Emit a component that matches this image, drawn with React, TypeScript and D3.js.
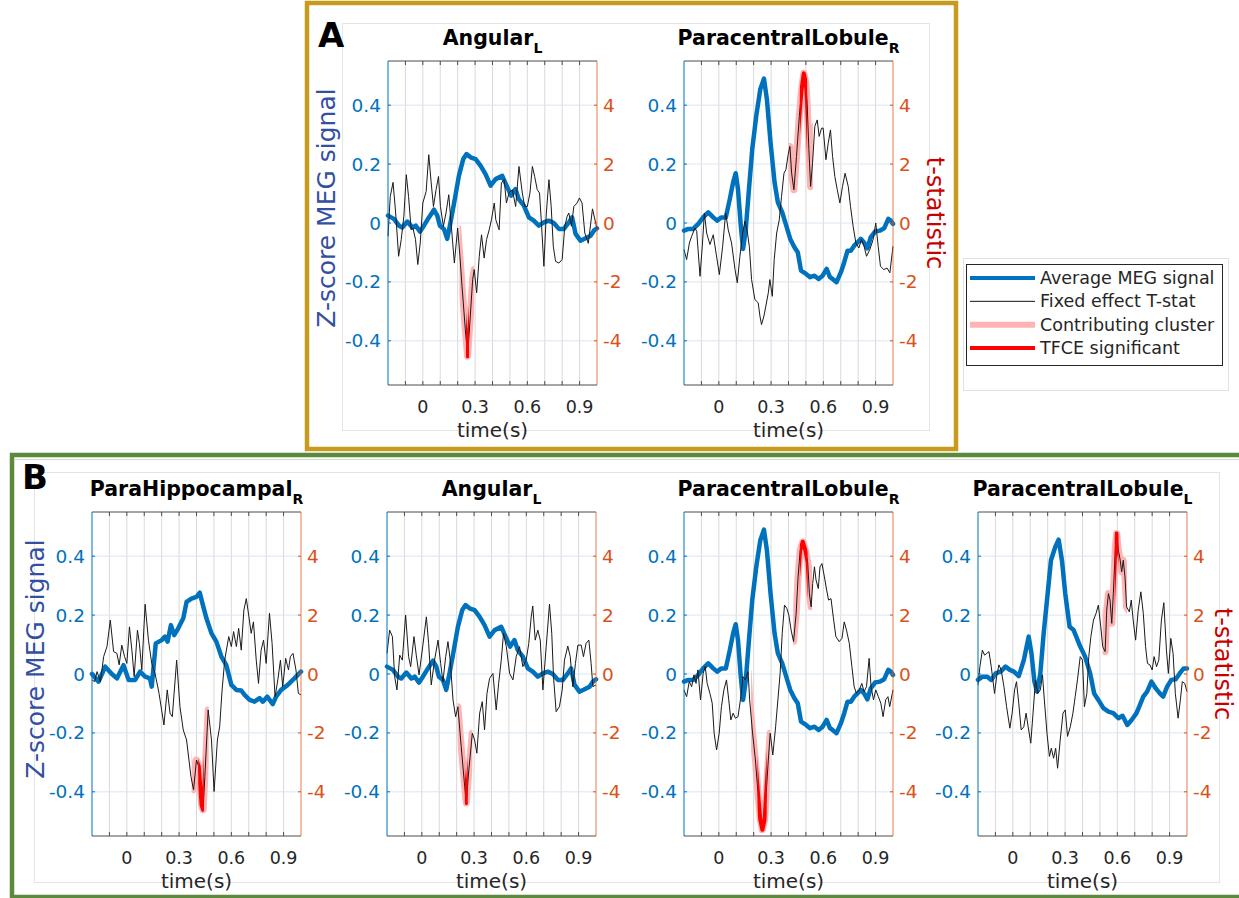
import React from 'react'
import * as d3 from 'd3'

type Pt = [number, number]

const FONT = 'DejaVu Sans, Verdana, sans-serif'
const BLUE = '#0072BD'
const ORANGE = '#D95319'
const PW = 209
const PH = 324

// axis ticks
const timeTicks = [-0.2, -0.1, 0, 0.1, 0.2, 0.3, 0.4, 0.5, 0.6, 0.7, 0.8, 0.9, 1.0]
const timeLabels = [0, 0.3, 0.6, 0.9]
const zTicks = [-0.4, -0.2, 0, 0.2, 0.4]
const tTicks = [-4, -2, 0, 2, 4]

// average MEG signal (z-score), [time, value]
const angularMeg: Pt[] = [
  [-0.2, 0.025], [-0.166, 0.014], [-0.137, -0.009], [-0.118, -0.015], [-0.089, 0.005], [-0.06, -0.015],
  [-0.041, -0.009], [-0.016, -0.029], [0.006, -0.009], [0.035, 0.019], [0.064, 0.045], [0.083, 0.025],
  [0.098, -0.009], [0.121, -0.02], [0.14, -0.054], [0.159, 0.002], [0.182, 0.076], [0.207, 0.16],
  [0.232, 0.217], [0.251, 0.234], [0.274, 0.223], [0.303, 0.217], [0.332, 0.194], [0.36, 0.166],
  [0.389, 0.127], [0.418, 0.149], [0.456, 0.16], [0.481, 0.127], [0.507, 0.093], [0.532, 0.115],
  [0.551, 0.081], [0.58, 0.059], [0.609, 0.019], [0.637, 0.008], [0.666, -0.009], [0.695, 0.002],
  [0.723, 0.008], [0.752, 0], [0.781, -0.02], [0.81, -0.02], [0.838, 0.002], [0.857, 0.019],
  [0.877, -0.037], [0.905, -0.06], [0.934, -0.052], [0.963, -0.043], [0.982, -0.026], [1.0, -0.018],
]
const paracentralRMeg: Pt[] = [
  [-0.2, -0.026], [-0.175, -0.02], [-0.147, -0.02], [-0.118, -0.003], [-0.09, 0.019], [-0.061, 0.036],
  [-0.032, 0.019], [-0.01, 0.008], [0.015, 0.019], [0.04, 0.019], [0.063, 0.081], [0.082, 0.138],
  [0.097, 0.169], [0.11, 0.115], [0.126, -0.009], [0.139, -0.088], [0.154, -0.026], [0.173, 0.115],
  [0.192, 0.251], [0.215, 0.364], [0.238, 0.454], [0.259, 0.49], [0.276, 0.42], [0.297, 0.273],
  [0.32, 0.138], [0.339, 0.07], [0.364, 0.036], [0.387, -0.009], [0.41, -0.054], [0.434, -0.082],
  [0.453, -0.099], [0.472, -0.162], [0.501, -0.173], [0.524, -0.184], [0.549, -0.179], [0.573, -0.19],
  [0.596, -0.179], [0.619, -0.156], [0.638, -0.184], [0.653, -0.19], [0.676, -0.201], [0.701, -0.167],
  [0.72, -0.133], [0.739, -0.094], [0.758, -0.094], [0.777, -0.077], [0.796, -0.066], [0.815, -0.054],
  [0.834, -0.066], [0.853, -0.086], [0.872, -0.049], [0.897, -0.029], [0.924, -0.026], [0.949, -0.018],
  [0.973, 0.014], [0.987, 0.008], [1.0, -0.003],
]
const parahippoRMeg: Pt[] = [
  [-0.2, 0.0], [-0.162, -0.026], [-0.124, 0.025], [-0.086, 0.0], [-0.057, -0.015], [-0.019, 0.03],
  [0.01, -0.02], [0.048, -0.02], [0.076, 0.008], [0.105, -0.009], [0.133, -0.015], [0.143, -0.043],
  [0.166, 0.104], [0.2, 0.115], [0.219, 0.127], [0.234, 0.11], [0.253, 0.166], [0.272, 0.132],
  [0.295, 0.155], [0.324, 0.189], [0.343, 0.245], [0.371, 0.256], [0.4, 0.262], [0.419, 0.276],
  [0.432, 0.245], [0.457, 0.189], [0.486, 0.138], [0.514, 0.11], [0.543, 0.059], [0.571, 0.03],
  [0.6, -0.037], [0.629, -0.054], [0.657, -0.056], [0.676, -0.071], [0.705, -0.088], [0.733, -0.094],
  [0.762, -0.082], [0.781, -0.094], [0.806, -0.077], [0.838, -0.102], [0.857, -0.077], [0.886, -0.054],
  [0.924, -0.037], [0.962, -0.015], [1.0, 0.008],
]
const paracentralLMeg: Pt[] = [
  [-0.2, -0.02], [-0.175, -0.009], [-0.147, -0.009], [-0.124, -0.02], [-0.099, 0.002], [-0.07, 0.008],
  [-0.042, 0.025], [-0.017, 0.014], [0.006, 0.008], [0.034, -0.007], [0.063, 0.047], [0.091, 0.127],
  [0.107, 0.07], [0.124, -0.026], [0.139, -0.06], [0.158, 0.002], [0.177, 0.138], [0.2, 0.273],
  [0.219, 0.386], [0.244, 0.432], [0.263, 0.456], [0.282, 0.386], [0.301, 0.273], [0.326, 0.16],
  [0.349, 0.149], [0.364, 0.127], [0.387, 0.093], [0.415, 0.059], [0.444, 0.002], [0.467, -0.066],
  [0.491, -0.088], [0.52, -0.116], [0.549, -0.128], [0.577, -0.133], [0.606, -0.15], [0.63, -0.142],
  [0.657, -0.173], [0.682, -0.156], [0.71, -0.133], [0.73, -0.105], [0.749, -0.077], [0.771, -0.06],
  [0.796, -0.026], [0.821, -0.049], [0.844, -0.066], [0.863, -0.077], [0.886, -0.043], [0.91, -0.02],
  [0.935, -0.018], [0.958, 0.002], [0.981, 0.019], [1.0, 0.019],
]

// fixed effect T-stat, [time, t]
const angularTA: Pt[] = [
  [-0.2, -0.45], [-0.187, 0.9], [-0.171, 1.38], [-0.156, 0.34], [-0.139, -1.13], [-0.124, -0.56],
  [-0.109, 0.23], [-0.095, 1.64], [-0.082, 0.9], [-0.067, -0.23], [-0.057, -0.17], [-0.042, -0.56],
  [-0.029, -1.41], [-0.015, -0.68], [0.0, 0.68], [0.019, 1.07], [0.034, 2.32], [0.048, 1.36],
  [0.061, 0.56], [0.076, 1.13], [0.09, 1.58], [0.101, 0.56], [0.118, -0.11], [0.133, 0.34],
  [0.149, 0.96], [0.162, 0], [0.181, -1.36], [0.2, -0.17], [0.213, -1.13], [0.225, -2.15],
  [0.244, -3.62], [0.257, -4.52], [0.27, -3.39], [0.286, -1.92], [0.295, -1.58], [0.309, -2.37],
  [0.324, -1.13], [0.337, -0.4], [0.352, -1.19], [0.366, -0.56], [0.381, -0.23], [0.394, 0.11],
  [0.41, 0.68], [0.419, 0.11], [0.438, -0.23], [0.451, 1.36], [0.467, 1.47], [0.48, 0.68],
  [0.495, 1.02], [0.514, 1.13], [0.533, 0.56], [0.552, 1.92], [0.571, 1.02], [0.585, 0.56],
  [0.6, 0.56], [0.615, 1.02], [0.629, 1.92], [0.642, 1.58], [0.657, 1.13], [0.67, 1.02],
  [0.682, -0.11], [0.695, -1.47], [0.709, 0.34], [0.724, 1.47], [0.737, 0.56], [0.749, -0.79],
  [0.762, -1.3], [0.781, -1.36], [0.8, -1.24], [0.815, -0.11], [0.829, 0.23], [0.838, 0.34],
  [0.853, -0.11], [0.867, 0.56], [0.886, 0.68], [0.899, 0.85], [0.914, 0.68], [0.93, -0.34],
  [0.95, -0.69], [0.974, 0.48], [1.0, -0.2],
]
const paracentralRTA: Pt[] = [
  [-0.2, -0.9], [-0.185, -1.24], [-0.169, -0.68], [-0.156, -0.45], [-0.137, -0.17], [-0.127, -0.28],
  [-0.108, -1.81], [-0.095, -0.79], [-0.083, 0.34], [-0.07, -0.34], [-0.051, -0.73], [-0.032, -0.4],
  [-0.016, -1.02], [0.003, -1.75], [0.022, -0.79], [0.039, 0.34], [0.054, -0.23], [0.073, -0.68],
  [0.093, -1.58], [0.106, -2.03], [0.121, -1.13], [0.137, -0.34], [0.15, 0.06], [0.163, -0.28],
  [0.175, -0.79], [0.188, -1.92], [0.207, -2.6], [0.226, -2.71], [0.236, -3.16], [0.245, -3.45],
  [0.259, -3.16], [0.27, -2.82], [0.284, -2.37], [0.293, -1.92], [0.307, -2.49], [0.318, -1.24],
  [0.332, -0.34], [0.347, 0.11], [0.36, 0.9], [0.374, 1.69], [0.385, 1.81], [0.398, 2.32],
  [0.408, 2.6], [0.418, 1.69], [0.431, 1.13], [0.446, 2.26], [0.462, 3.62], [0.475, 4.52],
  [0.488, 5.08], [0.5, 4.75], [0.507, 4.07], [0.517, 2.49], [0.527, 1.24], [0.538, 2.03],
  [0.551, 3.28], [0.565, 3.5], [0.576, 2.94], [0.59, 3.22], [0.599, 3.22], [0.615, 2.15],
  [0.628, 2.71], [0.641, 3.16], [0.653, 2.26], [0.666, 1.58], [0.68, 1.13], [0.695, 0.68],
  [0.71, 1.24], [0.725, 1.69], [0.743, 1.24], [0.756, 0.56], [0.771, -0.11], [0.787, -0.68],
  [0.804, -0.85], [0.819, -0.56], [0.834, -0.79], [0.848, -1.13], [0.867, -0.9], [0.886, -0.56],
  [0.901, 0], [0.915, -0.79], [0.928, -1.47], [0.947, -1.58], [0.966, -1.53], [0.982, -1.69],
  [1.0, -0.79],
]
const parahippoRTB: Pt[] = [
  [-0.2, -0.2], [-0.185, -0.26], [-0.171, 0.08], [-0.152, -0.26], [-0.133, 0.59], [-0.114, 0.93],
  [-0.095, 1.83], [-0.076, 0.76], [-0.057, 0.7], [-0.044, 0.31], [-0.029, 0.98], [-0.013, 0.59],
  [0.0, 0.36], [0.015, 1.6], [0.029, 0.81], [0.042, -0.09], [0.061, 1.49], [0.072, 1.04],
  [0.086, 0.14], [0.105, 2.37], [0.124, 1.15], [0.143, 0.36], [0.162, 0.02], [0.185, -0.66],
  [0.213, -1.73], [0.232, -0.54], [0.248, -1.33], [0.261, -1.45], [0.286, 0.47], [0.305, -1.11],
  [0.324, -1.9], [0.343, -2.24], [0.368, -3.48], [0.383, -3.93], [0.4, -2.92], [0.413, -3.14],
  [0.429, -4.44], [0.438, -4.61], [0.448, -3.48], [0.467, -1.22], [0.486, -2.24], [0.501, -3.99],
  [0.52, -2.24], [0.533, -1.79], [0.547, -0.54], [0.562, 0.47], [0.585, 1.27], [0.6, 0.93],
  [0.613, 1.44], [0.629, 0.93], [0.642, 1.55], [0.657, 0.81], [0.672, 2.17], [0.686, 2.56],
  [0.701, 1.94], [0.714, 1.38], [0.727, 1.77], [0.743, 0.47], [0.756, -0.32], [0.771, 0.81],
  [0.785, 1.15], [0.8, 0.36], [0.819, 2.06], [0.834, 1.04], [0.851, -0.77], [0.867, -0.2],
  [0.882, 0.47], [0.895, -0.43], [0.912, 0.53], [0.928, 0.14], [0.939, 0.59], [0.954, 0.7],
  [0.971, 0.14], [0.985, -0.66], [1.0, -0.71],
]
const angularTB: Pt[] = [
  [-0.2, 0.7], [-0.185, 1.49], [-0.169, 1.27], [-0.156, -0.09], [-0.143, -0.54], [-0.127, 0.64],
  [-0.112, 0.47], [-0.093, 2.0], [-0.076, 0.59], [-0.064, 0.25], [-0.045, 1.27], [-0.032, 0.64],
  [-0.016, -0.03], [0.006, 0.98], [0.026, 1.94], [0.039, 1.04], [0.054, -0.37], [0.073, 0.47],
  [0.093, 1.15], [0.108, 0.36], [0.121, -0.26], [0.137, 0.59], [0.15, 1.1], [0.163, 0.47],
  [0.179, -0.88], [0.194, -1.45], [0.207, -1.11], [0.226, -2.46], [0.246, -3.82], [0.255, -4.38],
  [0.27, -3.25], [0.29, -2.01], [0.303, -2.24], [0.316, -2.69], [0.332, -1.33], [0.347, -0.94],
  [0.36, -1.9], [0.374, -0.66], [0.389, -0.15], [0.408, 0.02], [0.427, -1.22], [0.441, -0.32],
  [0.456, 0.47], [0.469, 1.38], [0.485, 0.93], [0.504, 0.02], [0.523, -0.2], [0.542, 0.59],
  [0.561, 0.93], [0.58, 0.25], [0.599, 0.47], [0.614, 1.04], [0.628, 1.94], [0.637, 2.31],
  [0.651, 1.15], [0.666, 1.49], [0.68, 1.15], [0.695, -0.54], [0.714, 0.93], [0.733, 2.37],
  [0.746, 1.38], [0.756, -0.09], [0.771, -1.28], [0.79, -1.11], [0.806, -0.54], [0.819, 0.47],
  [0.838, 0.95], [0.852, 0.59], [0.867, -0.43], [0.882, 0.36], [0.896, 0.98], [0.915, 0.98],
  [0.928, 0.59], [0.943, 1.04], [0.959, 1.15], [0.972, 0.36], [0.982, -0.43], [1.0, -0.37],
]
const paracentralRTB: Pt[] = [
  [-0.2, -0.54], [-0.185, -0.77], [-0.17, -0.26], [-0.156, -0.43], [-0.143, -0.03], [-0.131, -0.32],
  [-0.12, 0.14], [-0.105, -0.88], [-0.09, 0.02], [-0.078, 0.25], [-0.067, -0.32], [-0.051, -0.66],
  [-0.038, -0.99], [-0.027, -2.01], [-0.013, -2.58], [0.002, -2.01], [0.015, -1.11], [0.029, -0.54],
  [0.044, -0.2], [0.057, -0.88], [0.069, -1.56], [0.082, -1.33], [0.095, -1.5], [0.11, -1.45],
  [0.124, -0.88], [0.139, -0.09], [0.152, -0.2], [0.168, 0.08], [0.177, -0.88], [0.192, -1.9],
  [0.21, -2.92], [0.225, -4.05], [0.238, -4.94], [0.25, -5.29], [0.263, -4.94], [0.272, -4.05],
  [0.284, -2.92], [0.295, -2.01], [0.31, -2.75], [0.326, -1.79], [0.339, -0.88], [0.352, 0.02],
  [0.364, 1.38], [0.377, 2.34], [0.39, 2.23], [0.402, 2.0], [0.415, 1.49], [0.429, 1.1],
  [0.444, 2.06], [0.455, 3.3], [0.467, 4.2], [0.482, 4.49], [0.497, 4.2], [0.51, 3.81],
  [0.52, 2.73], [0.53, 2.28], [0.539, 3.07], [0.549, 3.64], [0.558, 3.19], [0.571, 2.9],
  [0.581, 3.64], [0.592, 3.75], [0.606, 3.3], [0.619, 2.85], [0.63, 2.51], [0.644, 2.56],
  [0.657, 1.94], [0.672, 1.27], [0.691, 1.1], [0.707, 1.21], [0.72, 1.77], [0.733, 1.49],
  [0.749, 1.04], [0.764, 0.25], [0.777, -0.43], [0.79, -0.66], [0.806, -0.54], [0.821, -0.32],
  [0.834, -0.6], [0.848, -0.43], [0.863, 0.53], [0.874, -0.43], [0.888, -0.88], [0.901, -0.54],
  [0.916, -0.77], [0.93, -0.99], [0.943, -1.45], [0.958, -0.88], [0.971, -0.77], [0.981, -1.11],
  [1.0, -0.54],
]
const paracentralLTB: Pt[] = [
  [-0.2, -0.37], [-0.189, 0.25], [-0.175, 0.81], [-0.162, 0.64], [-0.15, 0.7], [-0.137, 0.76],
  [-0.124, 0.25], [-0.105, -0.66], [-0.093, -0.09], [-0.08, 0.31], [-0.067, 0.14], [-0.051, -0.43],
  [-0.036, -1.11], [-0.017, -1.84], [-0.004, -1.33], [0.01, -0.54], [0.021, -0.26], [0.034, -0.99],
  [0.048, -1.9], [0.063, -1.79], [0.076, -1.33], [0.088, -1.79], [0.103, -2.35], [0.116, -1.33],
  [0.13, -0.2], [0.143, -0.66], [0.158, -0.54], [0.17, -0.03], [0.181, -0.88], [0.196, -2.01],
  [0.21, -2.8], [0.221, -2.52], [0.234, -2.86], [0.246, -2.52], [0.257, -3.2], [0.272, -2.24],
  [0.288, -1.33], [0.301, -1.22], [0.314, -2.12], [0.33, -1.79], [0.345, -1.33], [0.358, -0.77],
  [0.371, -0.2], [0.387, 0.59], [0.4, 0.47], [0.411, -1.11], [0.425, -0.66], [0.436, 0.59],
  [0.448, 1.27], [0.463, 1.83], [0.478, 2.06], [0.491, 2.34], [0.505, 1.6], [0.516, 0.93],
  [0.53, 0.76], [0.539, 2.17], [0.549, 2.73], [0.558, 2.51], [0.568, 1.72], [0.577, 2.73],
  [0.589, 4.32], [0.596, 4.77], [0.606, 4.2], [0.615, 3.92], [0.625, 3.47], [0.634, 3.86],
  [0.644, 3.3], [0.653, 2.28], [0.669, 2.11], [0.68, 2.51], [0.691, 1.83], [0.705, 1.15],
  [0.72, 2.17], [0.735, 2.79], [0.749, 2.06], [0.762, 0.93], [0.773, 0.36], [0.787, 0.31],
  [0.8, 0.14], [0.811, 0.59], [0.825, 0.25], [0.838, 0.47], [0.853, 1.83], [0.867, 2.42],
  [0.882, 0.81], [0.893, 0.02], [0.907, 1.21], [0.92, 0.7], [0.933, -0.66], [0.949, -1.5],
  [0.962, -0.88], [0.973, -0.26], [0.987, -0.32], [1.0, -0.6],
]

// cluster windows (s): contributing cluster and TFCE significant
const angularClusterA: Pt[] = [[0.21, 0.295]]
const angularTfceA: Pt[] = [[0.248, 0.265]]
const paracentralRClusterA: Pt[] = [[0.40, 0.54]]
const paracentralRTfceA: Pt[] = [[0.465, 0.507]]
const parahippoRClusterB: Pt[] = [[0.372, 0.47]]
const parahippoRTfceB: Pt[] = [[0.41, 0.442]]
const angularClusterB: Pt[] = [[0.205, 0.29]]
const angularTfceB: Pt[] = [[0.247, 0.264]]
const paracentralRClusterB: Pt[] = [[0.185, 0.295], [0.427, 0.535]]
const paracentralRTfceB: Pt[] = [[0.222, 0.275], [0.465, 0.51]]
const paracentralLClusterB: Pt[] = [[0.515, 0.655]]
const paracentralLTfceB: Pt[] = [[0.585, 0.607]]

const legendLabels = ['Average MEG signal', 'Fixed effect T-stat', 'Contributing cluster', 'TFCE significant']

type PlotSpec = {
  id: string; left: number; top: number; title: string; sub: string
  meg: Pt[]; tstat: Pt[]; cluster: Pt[]; tfce: Pt[]
  zLabelX?: number; tLabelX?: number
}

const plots: PlotSpec[] = [
  { id: 'a1', left: 388, top: 61, title: 'Angular', sub: 'L', meg: angularMeg, tstat: angularTA, cluster: angularClusterA, tfce: angularTfceA, zLabelX: 326 },
  { id: 'a2', left: 684, top: 61, title: 'ParacentralLobule', sub: 'R', meg: paracentralRMeg, tstat: paracentralRTA, cluster: paracentralRClusterA, tfce: paracentralRTfceA, tLabelX: 935 },
  { id: 'b1', left: 92, top: 512, title: 'ParaHippocampal', sub: 'R', meg: parahippoRMeg, tstat: parahippoRTB, cluster: parahippoRClusterB, tfce: parahippoRTfceB, zLabelX: 35 },
  { id: 'b2', left: 387, top: 512, title: 'Angular', sub: 'L', meg: angularMeg, tstat: angularTB, cluster: angularClusterB, tfce: angularTfceB },
  { id: 'b3', left: 684, top: 512, title: 'ParacentralLobule', sub: 'R', meg: paracentralRMeg, tstat: paracentralRTB, cluster: paracentralRClusterB, tfce: paracentralRTfceB },
  { id: 'b4', left: 978, top: 512, title: 'ParacentralLobule', sub: 'L', meg: paracentralLMeg, tstat: paracentralLTB, cluster: paracentralLClusterB, tfce: paracentralLTfceB, tLabelX: 1223 },
]

function Plot({ p }: { p: PlotSpec }) {
  const { left, top, id } = p
  const right = left + PW
  const bottom = top + PH
  const x = d3.scaleLinear().domain([-0.2, 1.0]).range([left, right])
  const yz = d3.scaleLinear().domain([-0.55, 0.55]).range([bottom, top])
  const yt = d3.scaleLinear().domain([-5.5, 5.5]).range([bottom, top])
  const megLine = d3.line<Pt>().x(d => x(d[0])).y(d => yz(d[1]))
  const tLine = d3.line<Pt>().x(d => x(d[0])).y(d => yt(d[1]))
  const tPath = tLine(p.tstat) || ''
  const cx = (left + right) / 2

  return (
    <g>
      <defs>
        {p.cluster.map((w, i) => (
          <clipPath key={'c' + i} id={`${id}-c${i}`}>
            <rect x={x(w[0])} y={top - 10} width={x(w[1]) - x(w[0])} height={PH + 20} />
          </clipPath>
        ))}
        {p.tfce.map((w, i) => (
          <clipPath key={'r' + i} id={`${id}-r${i}`}>
            <rect x={x(w[0])} y={top - 10} width={x(w[1]) - x(w[0])} height={PH + 20} />
          </clipPath>
        ))}
      </defs>

      {/* grid */}
      {timeTicks.slice(1, -1).map(t => (
        <line key={'gx' + t} x1={x(t)} x2={x(t)} y1={top} y2={bottom} stroke="#dadada" strokeWidth={1} />
      ))}
      {zTicks.map(z => (
        <line key={'gy' + z} x1={left} x2={right} y1={yz(z)} y2={yz(z)} stroke="#d9e6f2" strokeWidth={1} />
      ))}

      {/* data */}
      <path d={megLine(p.meg) || ''} fill="none" stroke={BLUE} strokeWidth={4.5} strokeLinejoin="round" strokeLinecap="round" />
      {p.cluster.map((w, i) => (
        <path key={'pc' + i} d={tPath} fill="none" stroke="#ffb3b3" strokeWidth={7} strokeLinejoin="round" clipPath={`url(#${id}-c${i})`} />
      ))}
      <path d={tPath} fill="none" stroke="#1a1a1a" strokeWidth={1} strokeLinejoin="round" />
      {p.tfce.map((w, i) => (
        <path key={'pr' + i} d={tPath} fill="none" stroke="#ff0000" strokeWidth={4} strokeLinejoin="round" clipPath={`url(#${id}-r${i})`} />
      ))}

      {/* axes */}
      <line x1={left} x2={right} y1={top} y2={top} stroke="#4d4d4d" strokeWidth={1} />
      <line x1={left} x2={right} y1={bottom} y2={bottom} stroke="#4d4d4d" strokeWidth={1} />
      <line x1={left} x2={left} y1={top} y2={bottom} stroke={BLUE} strokeWidth={1} />
      <line x1={right} x2={right} y1={top} y2={bottom} stroke={ORANGE} strokeOpacity={0.75} strokeWidth={1} />
      {timeTicks.slice(1, -1).map(t => (
        <g key={'tk' + t}>
          <line x1={x(t)} x2={x(t)} y1={top} y2={top + 4} stroke="#4d4d4d" />
          <line x1={x(t)} x2={x(t)} y1={bottom} y2={bottom - 4} stroke="#4d4d4d" />
        </g>
      ))}
      {zTicks.map(z => (
        <line key={'zk' + z} x1={left} x2={left + 3} y1={yz(z)} y2={yz(z)} stroke={BLUE} />
      ))}
      {tTicks.map(t => (
        <line key={'tt' + t} x1={right} x2={right - 3} y1={yt(t)} y2={yt(t)} stroke={ORANGE} />
      ))}

      {/* tick labels */}
      {timeLabels.map(t => (
        <text key={'xl' + t} x={x(t)} y={bottom + 28} textAnchor="middle" fontSize={17.5} fill="#262626" fontFamily={FONT}>{t === 0 ? '0' : String(t)}</text>
      ))}
      {zTicks.map(z => (
        <text key={'zl' + z} x={left - 7} y={yz(z) + 6.5} textAnchor="end" fontSize={18.5} fill={BLUE} fontFamily={FONT}>{z === 0 ? '0' : String(z)}</text>
      ))}
      {tTicks.map(t => (
        <text key={'tl' + t} x={right + 6} y={yt(t) + 6.5} textAnchor="start" fontSize={18.5} fill={ORANGE} fontFamily={FONT}>{String(t)}</text>
      ))}
      <text x={cx} y={bottom + 52} textAnchor="middle" fontSize={20} fill="#262626" fontFamily={FONT}>time(s)</text>

      {/* title */}
      <text x={cx} y={top - 16} textAnchor="middle" fontSize={20.5} fontWeight="bold" fill="#000" fontFamily={FONT}>
        {p.title}
        <tspan fontSize={14} dy={8}>{p.sub}</tspan>
      </text>

      {p.zLabelX !== undefined && (
        <text transform={`translate(${p.zLabelX},${top + 147}) rotate(-90)`} textAnchor="middle" dominantBaseline="central" fontSize={25} fill="#3350a0" fontFamily={FONT}>Z-score MEG signal</text>
      )}
      {p.tLabelX !== undefined && (
        <text transform={`translate(${p.tLabelX},${top + 152}) rotate(90)`} textAnchor="middle" dominantBaseline="central" fontSize={24} fill="#c80000" fontFamily={FONT}>t-statistic</text>
      )}
    </g>
  )
}

function Legend() {
  const rows = d3.scaleLinear().domain([0, 3]).range([278, 348])
  const styles = [
    { stroke: BLUE, w: 4 },
    { stroke: '#111', w: 1 },
    { stroke: '#ffb3b3', w: 6 },
    { stroke: '#ff0000', w: 4 },
  ]
  return (
    <g>
      <rect x={963.5} y={258.5} width={265} height={132} fill="#fff" stroke="#e2e2e2" />
      <rect x={966.5} y={264.5} width={256} height={101} fill="#fff" stroke="#262626" strokeWidth={1} />
      {legendLabels.map((l, i) => (
        <g key={l}>
          <line x1={970} x2={1035} y1={rows(i)} y2={rows(i)} stroke={styles[i].stroke} strokeWidth={styles[i].w} />
          <text x={1040} y={rows(i) + 6} fontSize={17.5} fill="#262626" fontFamily={FONT}>{l}</text>
        </g>
      ))}
    </g>
  )
}

export default function App() {
  return (
    <svg width={1239} height={898} style={{ position: 'absolute', left: 0, top: 0, background: '#fff' }}>
      <rect x={0} y={0} width={1239} height={898} fill="#fff" />
      {/* panel frames */}
      <rect x={342.5} y={23.5} width={587} height={407} fill="none" stroke="#e4e4e4" />
      <rect x={34.5} y={472.5} width={1185} height={410} fill="none" stroke="#e4e4e4" />
      <rect x={307} y={3} width={649} height={446} fill="none" stroke="#c89b1e" strokeWidth={4.5} />
      <rect x={12} y={455} width={1240} height={442} fill="none" stroke="#5b8a3c" strokeWidth={4.5} />
      <line x1={14} x2={1239} y1={459.5} y2={459.5} stroke="#cfdcc6" />

      {plots.map(p => <Plot key={p.id} p={p} />)}
      <Legend />

      <text x={318} y={47} fontSize={34} fontWeight="bold" fontFamily={FONT} fill="#000">A</text>
      <text x={22} y={489} fontSize={34} fontWeight="bold" fontFamily={FONT} fill="#000">B</text>
    </svg>
  )
}
